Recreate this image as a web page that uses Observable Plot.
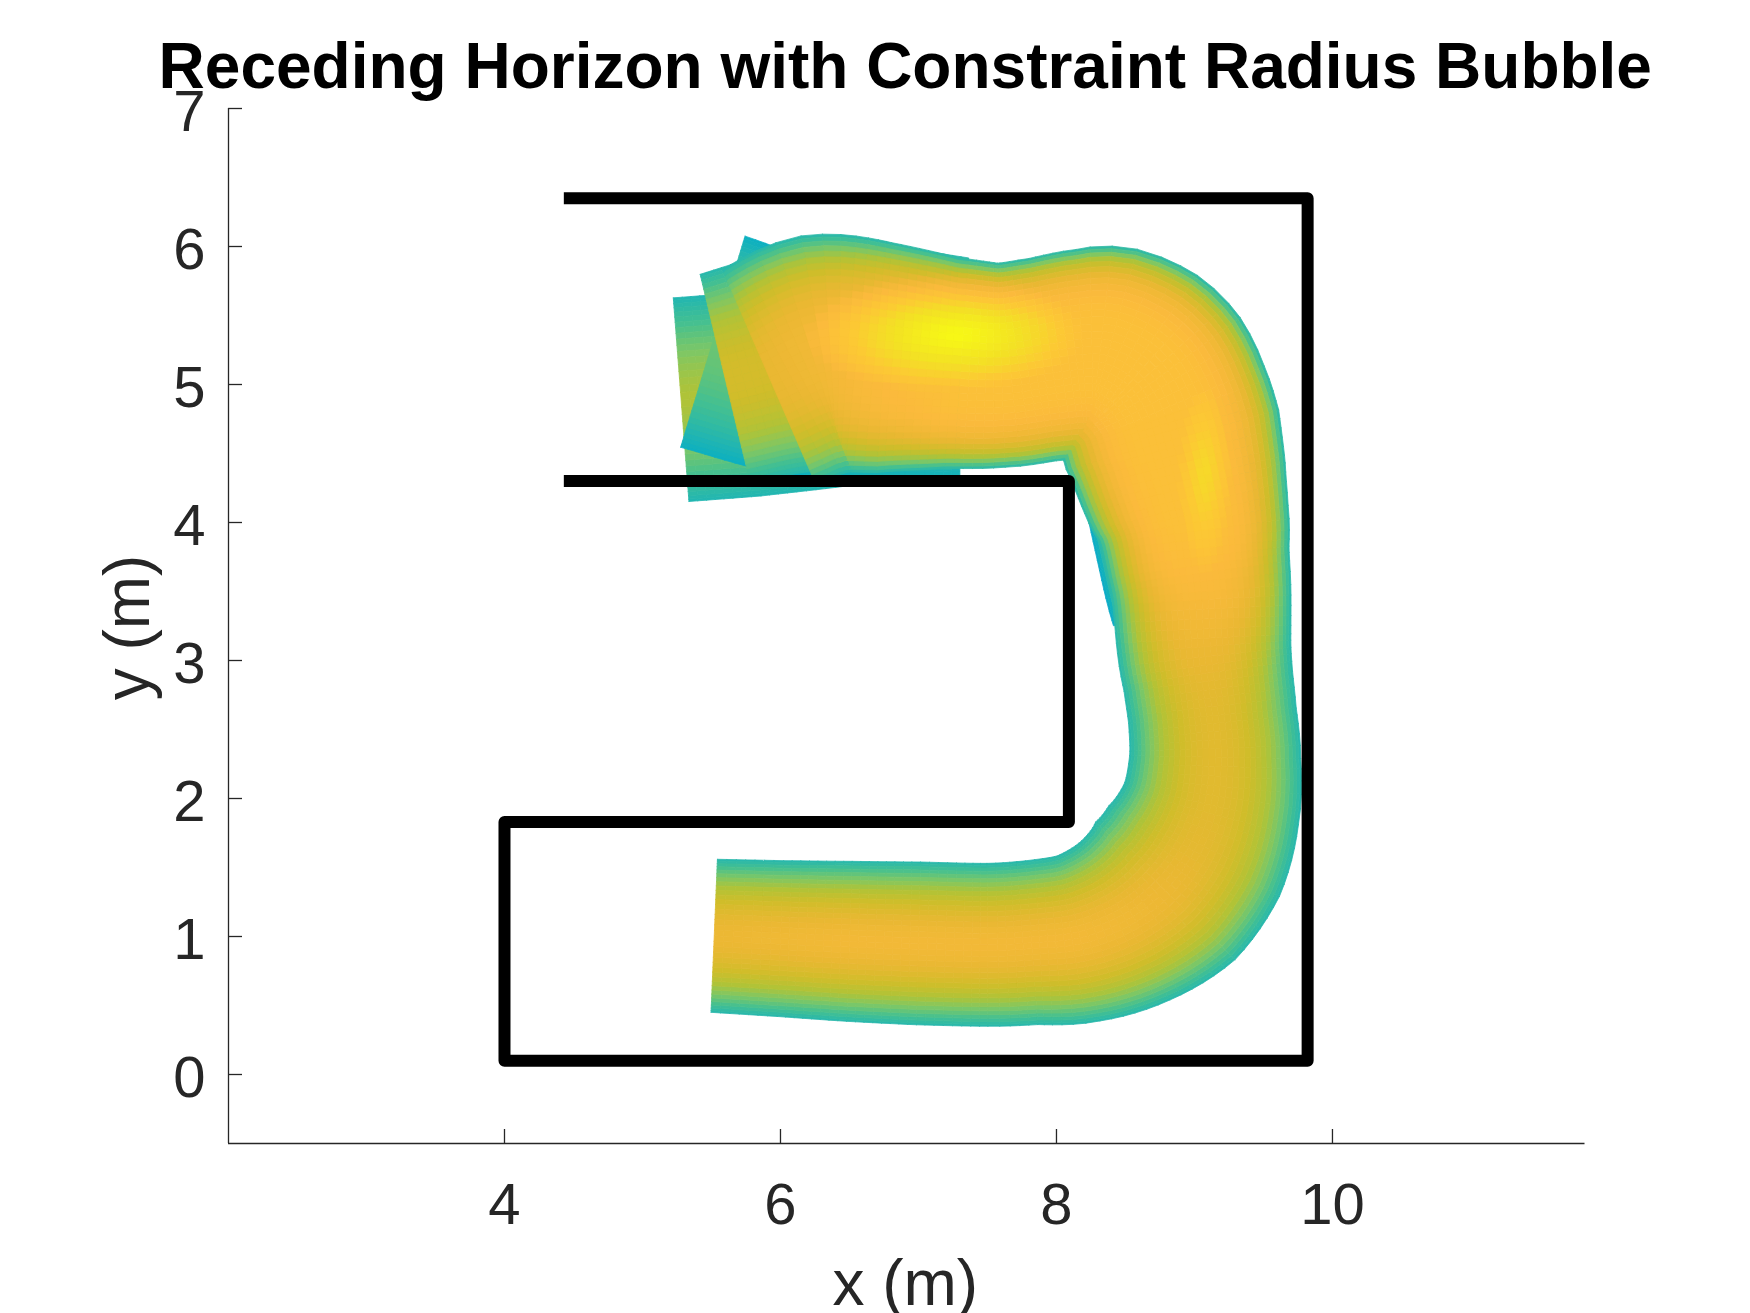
<!DOCTYPE html>
<html><head><meta charset="utf-8">
<script src="https://cdn.jsdelivr.net/npm/d3@7"></script>
<script src="https://cdn.jsdelivr.net/npm/@observablehq/plot@0.6"></script>
<style>body{margin:0;background:#fff}</style>
</head><body><div id="chart"></div>
<script>
// ---------- text ----------
const titleText = "Receding Horizon with Constraint Radius Bubble";
const xLabel = "x (m)";
const yLabel = "y (m)";
const xTicks = [4, 6, 8, 10];
const yTicks = [0, 1, 2, 3, 4, 5, 6, 7];

// ---------- walls ----------
const wallX = [4.43, 9.82, 9.82, 4.0, 4.0, 8.09, 8.09, 4.43];
const wallY = [6.35, 6.35, 0.10, 0.10, 1.83, 1.83, 4.30, 4.30];

// ---------- main bubble tube (centerline, radius, peak value, falloff) ----------
const mainX = [5.52, 6.0, 6.5, 7.0, 7.5, 7.82, 8.171, 8.503, 8.789, 8.998, 9.119, 9.15, 9.13, 9.10, 9.07, 9.05, 9.02, 8.99, 8.93, 8.84, 8.77, 8.67, 8.55, 8.37, 8.19, 7.9, 7.6, 7.24, 6.75, 6.3, 5.92];
const mainY = [1.005, 0.985, 0.965, 0.95, 0.94, 0.955, 0.991, 1.118, 1.331, 1.62, 1.952, 2.3, 2.6, 2.85, 3.1, 3.5, 3.75, 4.0, 4.25, 4.6, 4.82, 5.0, 5.12, 5.21, 5.22, 5.18, 5.14, 5.155, 5.195, 5.215, 5.05];
const mainR = [0.555, 0.565, 0.58, 0.59, 0.59, 0.595, 0.62, 0.66, 0.71, 0.70, 0.65, 0.62, 0.61, 0.615, 0.63, 0.65, 0.67, 0.70, 0.75, 0.80, 0.80, 0.82, 0.82, 0.80, 0.76, 0.74, 0.74, 0.765, 0.835, 0.875, 0.85];
const mainPeak = [0.81, 0.82, 0.83, 0.83, 0.83, 0.83, 0.83, 0.82, 0.81, 0.79, 0.78, 0.78, 0.78, 0.79, 0.81, 0.85, 0.87, 0.88, 0.88, 0.88, 0.88, 0.88, 0.88, 0.88, 0.88, 0.88, 0.88, 0.88, 0.86, 0.83, 0.80];
const mainFall = [1.8, 1.8, 1.8, 1.8, 1.8, 1.8, 1.9, 2.0, 2.0, 2.0, 2.0, 2.0, 2.0, 2.2, 2.6, 3.2, 3.6, 4.0, 4.4, 4.8, 5, 5, 5, 5, 5, 5, 5, 5, 4.2, 3.2, 2.5];
const mainEdge = 0.5;

// ---------- earlier horizon bubbles (behind) ----------
const g1X = [5.28, 5.8, 6.4, 7.0], g1Y = [4.89, 4.93, 4.98, 5.05], g1R = [0.74, 0.74, 0.72, 0.72];
const g3X = [5.51, 6.1, 6.7, 7.3], g3Y = [5.31, 5.13, 5.05, 5.05], g3R = [0.80, 0.78, 0.75, 0.75];
const g2X = [5.6, 6.1, 6.7, 7.3], g2Y = [5.04, 5.16, 5.2, 5.15], g2R = [0.78, 0.80, 0.80, 0.77];
const g5X = [8.68, 8.8, 8.88, 8.97, 9.02], g5Y = [4.75, 4.35, 4.0, 3.6, 3.42], g5R = [0.63, 0.63, 0.63, 0.63, 0.63];
const ghostPeak = [0.68, 0.60, 0.75, 0.80];
const ghostEdge = [0.49, 0.45, 0.50, 0.42];
const ghostFall = [1.5, 2, 2, 3];

// ---------- bright spots of the bubble value ----------
const hotX = [7.27, 9.07], hotY = [5.36, 4.35], hotRx = [1.15, 0.22], hotRy = [0.5, 0.75];
const hotPeak = [1.0, 0.94], hotBase = [0.78, 0.84];

// ---------- colormap (parula-like) ----------
const cmapStops = [0.38, 0.45, 0.5, 0.56, 0.62, 0.68, 0.74, 0.8, 0.86, 0.91, 0.95, 1.0];
const cmapColors = ["#0E9FD8", "#0BAFC2", "#25B7AE", "#45C090", "#7CC766", "#B0C337", "#D0BD2A", "#E9B832", "#FBBA3C", "#FCC934", "#F3E124", "#F7FA14"];

// ---------- mesh construction ----------
const BANDS = 18;
const F = d3.range(BANDS + 1).map(j => 1 - Math.pow(j / BANDS, 1.3));

function hotValue(px, py) {
  let v = -Infinity;
  for (let k = 0; k < hotX.length; k++) {
    const d = Math.hypot((px - hotX[k]) / hotRx[k], (py - hotY[k]) / hotRy[k]);
    if (d < 1) v = Math.max(v, hotBase[k] + (hotPeak[k] - hotBase[k]) * Math.pow(1 - d, 0.5));
  }
  return v;
}

function buildTube(x, y, r, peak, fall, edge, useHot, order, rows) {
  const n = x.length;
  // Catmull-Rom tangents for a smooth centerline through the read points
  const M = x.map((_, i) => {
    const a = Math.max(0, i - 1), b = Math.min(n - 1, i + 1);
    const k = (i === 0 || i === n - 1) ? 1 : 0.5;
    return [(x[b] - x[a]) * k, (y[b] - y[a]) * k];
  });
  const lerp = (a, b, t) => a + (b - a) * t;
  for (let i = 0; i < n - 1; i++) {
    const segLen = Math.hypot(x[i + 1] - x[i], y[i + 1] - y[i]);
    const S = Math.max(1, Math.ceil(segLen / 0.07));
    const at = t => {
      const t2 = t * t, t3 = t2 * t;
      const h00 = 2 * t3 - 3 * t2 + 1, h10 = t3 - 2 * t2 + t, h01 = -2 * t3 + 3 * t2, h11 = t3 - t2;
      const d00 = 6 * t2 - 6 * t, d10 = 3 * t2 - 4 * t + 1, d01 = -6 * t2 + 6 * t, d11 = 3 * t2 - 2 * t;
      const cx = h00 * x[i] + h10 * M[i][0] + h01 * x[i + 1] + h11 * M[i + 1][0];
      const cy = h00 * y[i] + h10 * M[i][1] + h01 * y[i + 1] + h11 * M[i + 1][1];
      const tx = d00 * x[i] + d10 * M[i][0] + d01 * x[i + 1] + d11 * M[i + 1][0];
      const ty = d00 * y[i] + d10 * M[i][1] + d01 * y[i + 1] + d11 * M[i + 1][1];
      const L = Math.hypot(tx, ty);
      return {cx, cy, nx: -ty / L, ny: tx / L,
        rr: lerp(r[i], r[i + 1], t), pk: lerp(peak[i], peak[i + 1], t), fl: lerp(fall[i], fall[i + 1], t)};
    };
    for (let s = 0; s < S; s++) {
      const A = at(s / S), B = at((s + 1) / S), Q = at((s + 0.5) / S);
      for (const side of [1, -1]) {
        const P = (C, f) => [C.cx + side * f * C.rr * C.nx, C.cy + side * f * C.rr * C.ny];
        for (let j = 0; j < BANDS; j++) {
          const f0 = F[j], f1 = F[j + 1], fm = (f0 + f1) / 2;
          const pts = [P(A, f0), P(B, f0), P(B, f1), P(A, f1), P(A, f0)];
          const m = P(Q, fm);
          const edgeness = Math.pow(fm, Q.fl);
          let v = edge + (Q.pk - edge) * (1 - edgeness);
          if (useHot) v = Math.max(v, hotValue(m[0], m[1]) - 0.3 * edgeness);
          rows.push({order, band: j, pts, v});
        }
      }
    }
  }
}

const rows = [];
const ghosts = [[g1X, g1Y, g1R], [g3X, g3Y, g3R], [g2X, g2Y, g2R], [g5X, g5Y, g5R]];
ghosts.forEach(([gx, gy, gr], k) => {
  buildTube(gx, gy, gr, gx.map(() => ghostPeak[k]), gx.map(() => ghostFall[k]), ghostEdge[k], false, k, rows);
});
buildTube(mainX, mainY, mainR, mainPeak, mainFall, mainEdge, true, ghosts.length, rows);
rows.sort((a, b) => a.order - b.order || a.band - b.band);
const mesh = rows.flatMap((q, id) => q.pts.map(p => ({x: p[0], y: p[1], id, v: q.v})));

const walls = wallX.map((x, i) => ({x, y: wallY[i]}));

const frameW = 1750 - 228 - 165.5, frameH = 1313 - 108 - 170;
const axisColor = "#262626";

const chart = Plot.plot({
  width: 1750, height: 1313,
  marginLeft: 228, marginRight: 165.5, marginTop: 108, marginBottom: 170,
  x: {domain: [2.0, 11.83]},
  y: {domain: [-0.5, 7]},
  color: {type: "linear", domain: cmapStops, range: cmapColors, clamp: true},
  style: {fontFamily: "'Liberation Sans', Arial, Helvetica, sans-serif", background: "white", overflow: "visible"},
  marks: [
    Plot.line(mesh, {x: "x", y: "y", z: "id", fill: "v", stroke: "v", strokeWidth: 0.8, curve: "linear"}),
    Plot.line(walls, {x: "x", y: "y", stroke: "black", strokeWidth: 12, strokeLinejoin: "round", strokeLinecap: "butt"}),
    Plot.ruleX([2.0], {stroke: axisColor, strokeWidth: 1.3}),
    Plot.ruleY([-0.5], {stroke: axisColor, strokeWidth: 1.3}),
    Plot.ruleX(xTicks, {x: d => d, insetTop: frameH - 14, stroke: axisColor, strokeWidth: 1.3}),
    Plot.ruleY(yTicks, {y: d => d, insetRight: frameW - 14, stroke: axisColor, strokeWidth: 1.3}),
    Plot.axisX({ticks: xTicks, tickSize: 0, tickPadding: 39.4, fontSize: 58, color: axisColor, label: null}),
    Plot.axisY({ticks: yTicks, tickSize: 0, tickPadding: 23, fontSize: 58, color: axisColor, label: null, dy: 4}),
    Plot.text([titleText], {text: d => d, frameAnchor: "top", textAnchor: "middle", dy: -21, dx: -1.5, lineAnchor: "bottom", fontSize: 64, fontWeight: "bold", fill: "black"}),
    Plot.text([xLabel], {text: d => d, frameAnchor: "bottom", textAnchor: "middle", dy: 161, dx: -1.5, lineAnchor: "bottom", fontSize: 64, fill: axisColor}),
    Plot.text([yLabel], {text: d => d, frameAnchor: "left", textAnchor: "middle", dx: -80, dy: 1.5, rotate: -90, lineAnchor: "bottom", fontSize: 64, fill: axisColor})
  ]
});
document.getElementById("chart").append(chart);
</script>
</body></html>
